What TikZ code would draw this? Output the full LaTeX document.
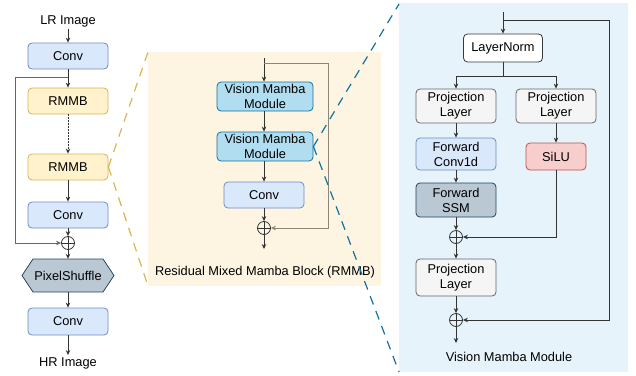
\documentclass[tikz,border=0pt]{standalone}
\usepackage{fontspec}
\setmainfont{Liberation Sans}
\usetikzlibrary{arrows.meta}
\definecolor{blueF}{HTML}{DAE8FC}\definecolor{blueD}{HTML}{6C8EBF}
\definecolor{yelF}{HTML}{FFF2CC}\definecolor{yelD}{HTML}{D6B656}
\definecolor{vmmF}{HTML}{B1DDF0}\definecolor{vmmD}{HTML}{10739E}
\definecolor{grF}{HTML}{F5F5F5}\definecolor{grD}{HTML}{666666}
\definecolor{slF}{HTML}{BAC8D3}\definecolor{slD}{HTML}{23445D}
\definecolor{reF}{HTML}{F8CECC}\definecolor{reD}{HTML}{B85450}
\definecolor{lnD}{HTML}{36393D}
\definecolor{bgM}{HTML}{FDF5E2}\definecolor{bgR}{HTML}{E6F3FA}
\definecolor{arr}{HTML}{333333}
\definecolor{skipM}{HTML}{8C8578}
\tikzset{
  box/.style={rectangle, rounded corners=4pt, draw, line width=0.8pt, inner sep=0pt, align=center},
  bluebox/.style={box, fill=blueF, draw=blueD},
  yelbox/.style={box, fill=yelF, draw=yelD},
  vmmbox/.style={box, fill=vmmF, draw=vmmD},
  grbox/.style={box, fill=grF, draw=grD},
  slbox/.style={box, fill=slF, draw=slD},
  rebox/.style={box, fill=reF, draw=reD},
  lnbox/.style={box, fill=white, draw=lnD},
  lbl/.style={inner sep=2pt},
  con/.style={draw=arr, line width=0.9pt, -{Stealth[length=5pt,width=4.5pt]}},
  lin/.style={draw=arr, line width=0.9pt},
  oplus/.style={circle, draw=arr, line width=0.8pt, minimum size=13pt, inner sep=0pt,
    path picture={\draw[arr, line width=0.8pt] (path picture bounding box.north) -- (path picture bounding box.south)
      (path picture bounding box.west) -- (path picture bounding box.east);}},
  ydash/.style={draw=yelD, line width=1.2pt, dash pattern=on 9pt off 7pt},
  bdash/.style={draw=vmmD, line width=1.2pt, dash pattern=on 9pt off 7pt},
}
\begin{document}
\begin{tikzpicture}[x=1pt, y=-1pt, font=\fontsize{12.8}{15}\selectfont]
\useasboundingbox (0,0) rectangle (636,375);
% panel backgrounds
\fill[bgM] (148,52) rectangle (381,286);
\fill[bgR] (399,3) rectangle (628,372);

% ---------- left column ----------
\node[lbl] (lr) at (68,21) {LR Image};
\node[bluebox, minimum width=80pt, minimum height=26pt] (conv1) at (68,56) {Conv};
\node[yelbox, minimum width=80pt, minimum height=26pt] (rmmb1) at (68,101) {RMMB};
\node[yelbox, minimum width=80pt, minimum height=26pt] (rmmb2) at (68,167) {RMMB};
\node[bluebox, minimum width=80pt, minimum height=26pt] (conv2) at (68,215) {Conv};
\node[oplus] (plusL) at (68,243) {};
\fill[slF] (22,275.5) -- (33,259) -- (103,259) -- (114,275.5) -- (103,292) -- (33,292) -- cycle;
\draw[slD, line width=0.8pt] (22,275.5) -- (33,259) -- (103,259) -- (114,275.5) -- (103,292) -- (33,292) -- cycle;
\node[minimum width=92pt, minimum height=33pt, inner sep=0pt] (ps) at (68,275.5) {PixelShuffle};
\node[bluebox, minimum width=80pt, minimum height=27pt] (conv3) at (68,321.5) {Conv};
\node[lbl] (hr) at (68,363) {HR Image};
\coordinate (brL) at (68,77);
\coordinate (skL) at (15,77);

\draw[con] (lr) -- (conv1);
\draw[con] (conv1) -- (rmmb1);
\draw[con, dash pattern=on 1.2pt off 1.8pt] (rmmb1) -- (rmmb2);
\draw[con] (rmmb2) -- (conv2);
\draw[con] (conv2) -- (plusL);
\draw[con] (plusL) -- (ps.north);
\draw[con] (ps.south) -- (conv3);
\draw[con] (conv3) -- (hr);
\draw[con, draw=grD] (brL) -- (skL) |- (plusL.west);

% ---------- middle panel ----------
\coordinate (inM) at (264,58);
\coordinate (brM) at (264,63);
\coordinate (skM) at (328,63);
\node[vmmbox, minimum width=96pt, minimum height=29pt] (vmm1) at (265,96.5) {Vision Mamba\\Module};
\node[vmmbox, minimum width=96pt, minimum height=29pt] (vmm2) at (265,146.5) {Vision Mamba\\Module};
\node[bluebox, minimum width=80pt, minimum height=26pt] (convM) at (264,195) {Conv};
\node[oplus] (plusM) at (264,228) {};
\coordinate (outM) at (264,249);
\node[lbl] (labM) at (265,272) {Residual Mixed Mamba Block (RMMB)};

\draw[con] (inM) -- (vmm1.north -| inM);
\draw[con] (vmm1.south -| inM) -- (vmm2.north -| inM);
\draw[con] (vmm2.south -| inM) -- (convM);
\draw[con] (convM) -- (plusM);
\draw[con] (plusM) -- (outM);
\draw[con, draw=skipM] (brM) -- (skM) |- (plusM.east);

% ---------- right panel ----------
\coordinate (inR) at (503,12);
\coordinate (brR) at (503,20);
\coordinate (skR) at (609,20);
\node[lnbox, minimum width=79pt, minimum height=28pt] (ln) at (503,48) {LayerNorm};
\coordinate (spl) at (503,76);
\node[grbox, minimum width=80pt, minimum height=34pt] (p1) at (456,106) {Projection\\Layer};
\node[grbox, minimum width=80pt, minimum height=34pt] (p2) at (556,106) {Projection\\Layer};
\node[bluebox, minimum width=80pt, minimum height=32pt] (fc) at (456,154) {Forward\\Conv1d};
\node[slbox, minimum width=80pt, minimum height=34pt] (ssm) at (456,200) {Forward\\SSM};
\node[rebox, minimum width=60pt, minimum height=27pt] (silu) at (556,156.5) {SiLU};
\node[oplus] (plus1) at (456,237) {};
\node[grbox, minimum width=80pt, minimum height=37pt] (p3) at (456,277.5) {Projection\\Layer};
\node[oplus] (plus2) at (456,320) {};
\coordinate (outR) at (456,343);
\node[lbl] (labR) at (509,357) {Vision Mamba Module};

\draw[con] (inR) -- (ln);
\draw[lin] (ln) -- (spl);
\draw[con] (spl) -| (p1);
\draw[con] (spl) -| (p2);
\draw[con] (p1) -- (fc);
\draw[con] (fc) -- (ssm);
\draw[con] (p2) -- (silu);
\draw[con] (ssm) -- (plus1);
\draw[con] (silu) |- (plus1.east);
\draw[con] (plus1) -- (p3);
\draw[con] (p3) -- (plus2);
\draw[con] (plus2) -- (outR);
\draw[con] (brR) -- (skR) |- (plus2.east);

% ---------- zoom guide lines ----------
\draw[ydash] (rmmb2.east) -- (148,52);
\draw[ydash] (rmmb2.east) -- (148,286);
\draw[bdash] (vmm2.east) -- (399,4);
\draw[bdash] (vmm2.east) -- (399,372);
\end{tikzpicture}
\end{document}
